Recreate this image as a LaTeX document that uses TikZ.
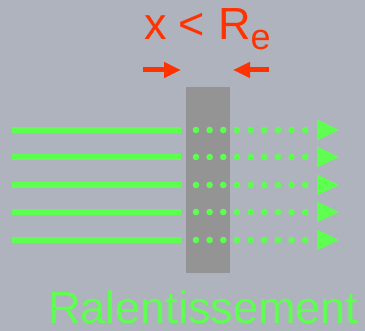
\documentclass[tikz,border=0pt]{standalone}
\usepackage{fontspec}
\setmainfont{Liberation Sans}
\usetikzlibrary{arrows.meta}
\definecolor{bg}{HTML}{AFB3BD}
\definecolor{blk}{HTML}{949494}
\definecolor{grn}{HTML}{5EFF50}
\definecolor{rd}{HTML}{FF3300}
\begin{document}
\begin{tikzpicture}[x=1pt,y=-1pt,
  beam/.style={grn,line width=6.5pt},
  dotc/.style={fill=grn},
  tip/.style={fill=grn},
  redarrow/.style={rd,line width=5pt,-{Triangle[length=17pt,width=15pt]}}]
\fill[bg] (0,0) rectangle (365,331);
\useasboundingbox (0,0) rectangle (365,331);
\node[fill=blk,draw=none,minimum width=44pt,minimum height=186pt,inner sep=0pt,anchor=north west] (block) at (186,87) {};
\foreach \y [count=\i] in {130,157,185,212,240}{
  \coordinate (s\i) at (12,\y);
  \coordinate (e\i) at (181,\y);
  \draw[beam] (s\i) -- (e\i);
  \foreach \k in {0,...,8}{
    \fill[dotc] (196+13.65*\k,\y) circle (3.3pt);
  }
  \coordinate (t\i) at (317,\y);
  \fill[tip] (t\i) ++(0,-10.5) -- ++(22,10.5) -- ++(-22,10.5) -- cycle;
}
\node[anchor=base west,inner sep=0pt,text=rd,font=\fontsize{45}{45}\selectfont] (lbl) at (144.5,40) {\rlap{x}\hspace{33.5pt}\rlap{<}\hspace{40pt}\rlap{R}\hspace{32.5pt}\raisebox{-9.5pt}{\fontsize{36}{36}\selectfont e}};
\coordinate (a1) at (143,70);
\coordinate (a2) at (181,70);
\coordinate (b1) at (269,70);
\coordinate (b2) at (233,70);
\draw[redarrow] (a1) -- (a2);
\draw[redarrow] (b1) -- (b2);
\node[anchor=base west,inner sep=0pt,text=grn] (slow) at (48,323.5) {\fontsize{45}{45}\selectfont Ralentissement};
\end{tikzpicture}
\end{document}
